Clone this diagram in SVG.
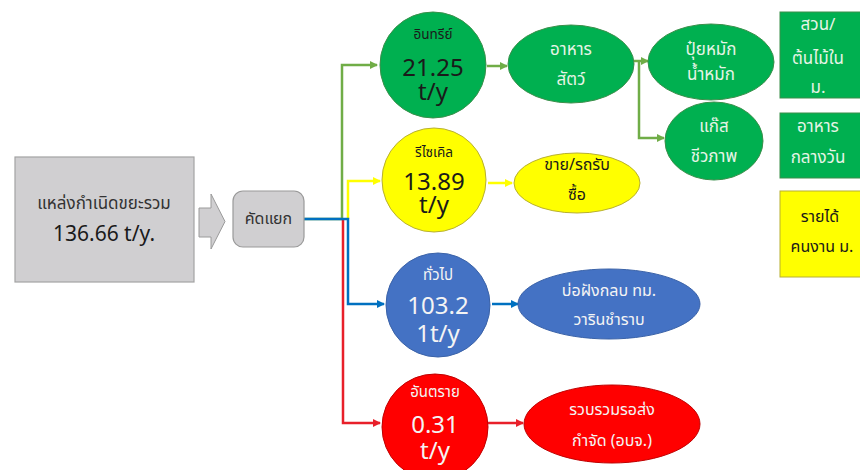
<svg xmlns="http://www.w3.org/2000/svg" width="860" height="470" viewBox="0 0 860 470">
<defs>
<style>
text{font-family:"Noto Sans Thai","Noto Sans","DejaVu Sans",sans-serif;text-anchor:middle}
.t13{font-size:13.5px}
.t15{font-size:15px}
.t16{font-size:16px}
.t17{font-size:17px}
.num{font-size:24px}
.dk{fill:#1a1a1a}
.lt{fill:#e6f4e6}
.wh{fill:#f4f4f4}
.g{fill:#00b050;stroke:#3a8f4a;stroke-width:1}
.y{fill:#ffff00;stroke:#b8b030;stroke-width:1}
.b{fill:#4472c4;stroke:#3a62a8;stroke-width:1}
.r{fill:#ff0000;stroke:#c00000;stroke-width:1}
.c{fill:none;stroke-width:2.5}
</style>
<marker id="ag" markerWidth="8" markerHeight="8" refX="7" refY="4" orient="auto" markerUnits="userSpaceOnUse"><path d="M0,0 L8,4 L0,8 z" fill="#70ad47"/></marker>
<marker id="ay" markerWidth="8" markerHeight="8" refX="7" refY="4" orient="auto" markerUnits="userSpaceOnUse"><path d="M0,0 L8,4 L0,8 z" fill="#ffff00"/></marker>
<marker id="ab" markerWidth="8" markerHeight="8" refX="7" refY="4" orient="auto" markerUnits="userSpaceOnUse"><path d="M0,0 L8,4 L0,8 z" fill="#0070c0"/></marker>
<marker id="ar" markerWidth="8" markerHeight="8" refX="7" refY="4" orient="auto" markerUnits="userSpaceOnUse"><path d="M0,0 L8,4 L0,8 z" fill="#e8202a"/></marker>
</defs>
<rect width="860" height="470" fill="#ffffff"/>

<g id="connectors">
<polyline class="c" points="304,219 342,219 342,65 377,65" stroke="#70ad47" marker-end="url(#ag)"/>
<polyline class="c" points="348,219 348,181 380,181" stroke="#ffff00" marker-end="url(#ay)"/>
<polyline class="c" points="343,219 343,423 380,423" stroke="#e8202a" marker-end="url(#ar)"/>
<polyline class="c" points="304,219 348,219 348,304 384,304" stroke="#0070c0" marker-end="url(#ab)"/>
<line class="c" x1="487" y1="66" x2="507" y2="66" stroke="#70ad47" marker-end="url(#ag)"/>
<line class="c" x1="488" y1="183" x2="512" y2="183" stroke="#ffff00" marker-end="url(#ay)"/>
<line class="c" x1="492" y1="304" x2="518" y2="304" stroke="#0070c0" marker-end="url(#ab)"/>
<line class="c" x1="488" y1="423" x2="523" y2="423" stroke="#e8202a" marker-end="url(#ar)"/>
<line class="c" x1="634" y1="61" x2="648" y2="61" stroke="#70ad47" marker-end="url(#ag)"/>
<polyline class="c" points="639,61 639,138 664,138" stroke="#70ad47" marker-end="url(#ag)"/>
</g>

<g id="source">
<rect x="15" y="157" width="179" height="125" fill="#d0cfd1" stroke="#a3a3a3" stroke-width="1.2"/>
<text x="104" y="209" class="t17" fill="#333">แหล่งกำเนิดขยะรวม</text>
<text x="104" y="241" font-size="21" fill="#1a1a1a">136.66 t/y.</text>
</g>

<g id="big-arrow">
<polygon points="199,208 211,208 211,194 225,221.5 211,249 211,237 199,237" fill="#d0cfd1" stroke="#9a9a9a" stroke-width="1"/>
</g>

<g id="sort">
<rect x="233" y="191" width="71" height="56" rx="10" fill="#d0cfd1" stroke="#9a9a9a" stroke-width="1.2"/>
<text x="268.5" y="224" class="t16" fill="#333">คัดแยก</text>
</g>

<g id="organic">
<circle cx="433" cy="65" r="53" class="g"/>
<text x="433" y="39" class="t13 dk">อินทรีย์</text>
<text x="433" y="76" class="num dk">21.25</text>
<text x="433" y="100" class="num dk">t/y</text>
</g>

<g id="recycle">
<circle cx="434" cy="180" r="52" class="y"/>
<text x="434" y="157" class="t13 dk">รีไซเคิล</text>
<text x="434" y="190" class="num dk">13.89</text>
<text x="434" y="213" class="num dk">t/y</text>
</g>

<g id="general">
<circle cx="438" cy="305" r="52" class="b"/>
<text x="438" y="280" class="t15 wh">ทั่วไป</text>
<text x="438" y="314" class="num wh">103.2</text>
<text x="438" y="342" class="num wh">1t/y</text>
</g>

<g id="hazard">
<circle cx="435" cy="427" r="53" class="r"/>
<text x="435" y="397" class="t15 wh">อันตราย</text>
<text x="435" y="433" class="num wh">0.31</text>
<text x="435" y="459" class="num wh">t/y</text>
</g>

<g id="feed">
<ellipse cx="571" cy="64" rx="63" ry="39" class="g"/>
<text x="571" y="55" class="t17 lt">อาหาร</text>
<text x="571" y="85" class="t17 lt">สัตว์</text>
</g>

<g id="sell">
<ellipse cx="577" cy="183" rx="63" ry="30" class="y"/>
<text x="577" y="170" class="t16 dk">ขาย/รถรับ</text>
<text x="577" y="200" class="t16 dk">ซื้อ</text>
</g>

<g id="landfill">
<ellipse cx="609" cy="304" rx="91" ry="35" class="b"/>
<text x="609" y="296" class="t16 wh">บ่อฝังกลบ ทม.</text>
<text x="609" y="325" class="t16 wh">วารินชำราบ</text>
</g>

<g id="collect">
<ellipse cx="612" cy="424" rx="88" ry="39" class="r"/>
<text x="612" y="415" class="t16 wh">รวบรวมรอส่ง</text>
<text x="612" y="446" class="t16 wh">กำจัด (อบจ.)</text>
</g>

<g id="compost">
<ellipse cx="711" cy="62" rx="63" ry="38" class="g"/>
<text x="711" y="55" class="t17 lt">ปุ๋ยหมัก</text>
<text x="711" y="80" class="t17 lt">น้ำหมัก</text>
</g>

<g id="biogas">
<ellipse cx="714" cy="141" rx="49" ry="39" class="g"/>
<text x="714" y="132" class="t17 lt">แก๊ส</text>
<text x="714" y="162" class="t17 lt">ชีวภาพ</text>
</g>

<g id="garden">
<rect x="780" y="12" width="90" height="86" class="g"/>
<text x="818" y="30" class="t17 lt">สวน/</text>
<text x="818" y="64" class="t17 lt">ต้นไม้ใน</text>
<text x="818" y="93" class="t17 lt">ม.</text>
</g>

<g id="lunch">
<rect x="780" y="113" width="90" height="65" class="g"/>
<text x="818" y="132" class="t17 lt">อาหาร</text>
<text x="818" y="163" class="t17 lt">กลางวัน</text>
</g>

<g id="income">
<rect x="780" y="191" width="90" height="86" class="y"/>
<text x="820" y="222" class="t16 dk">รายได้</text>
<text x="822" y="252" class="t16 dk">คนงาน ม.</text>
</g>
</svg>
